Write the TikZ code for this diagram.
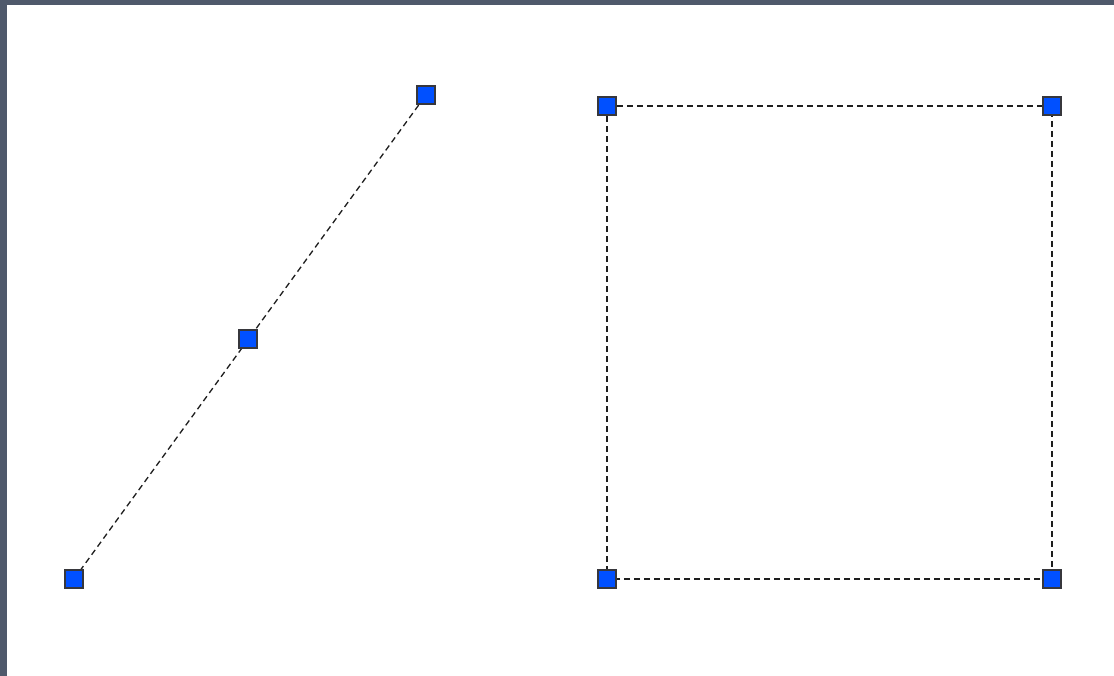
\documentclass[tikz,border=0pt]{standalone}
\definecolor{frame}{RGB}{79,89,107}
\definecolor{handle}{RGB}{0,80,255}
\definecolor{handleedge}{RGB}{55,55,60}
\definecolor{guide}{RGB}{30,30,30}
\begin{document}
\begin{tikzpicture}[x=1pt,y=-1pt,
  grip/.style={rectangle,draw=handleedge,fill=handle,line width=1.4pt,minimum size=18pt,inner sep=0pt},
  guideline/.style={draw=guide,line width=1.3pt,dash pattern=on 6pt off 4pt}]
\useasboundingbox (0,0) rectangle (1114,676);
\fill[frame] (0,0) rectangle (1114,676);
\fill[white] (7,5) rectangle (1114,676);
% line with midpoint
\coordinate (la) at (74,579);
\coordinate (lb) at (426,95);
\draw[guideline] (la) -- (lb);
% rectangle
\coordinate (ra) at (607,106);
\coordinate (rb) at (1052,106);
\coordinate (rc) at (1052,579);
\coordinate (rd) at (607,579);
\draw[guideline] (ra) -- (rb) -- (rc) -- (rd) -- cycle;
\node[grip] (n1) at (la) {};
\node[grip] (n2) at (248,339) {};
\node[grip] (n3) at (lb) {};
\node[grip] (n4) at (ra) {};
\node[grip] (n5) at (rb) {};
\node[grip] (n6) at (rc) {};
\node[grip] (n7) at (rd) {};
\end{tikzpicture}
\end{document}
